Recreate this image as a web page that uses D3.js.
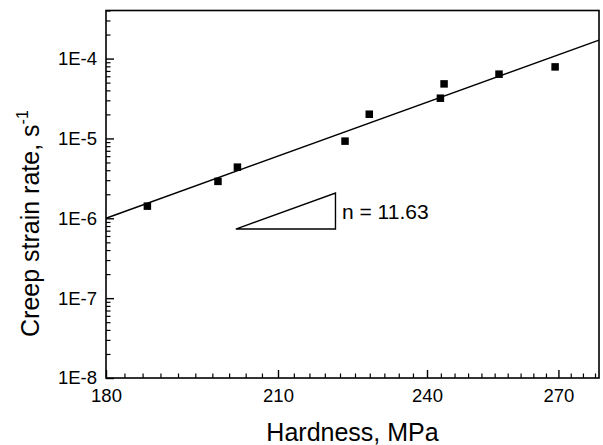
<!DOCTYPE html>
<html>
<head>
<meta charset="utf-8">
<script src="https://cdn.jsdelivr.net/npm/d3@7/dist/d3.min.js"></script>
<style>
  html, body { margin: 0; padding: 0; background: #fff; }
  svg { display: block; font-family: "Liberation Sans", Arial, Helvetica, sans-serif; }
</style>
</head>
<body>
<svg id="chart" width="603" height="445"></svg>
<script>
// Measured hardness (MPa) and creep strain rate (1/s)
const hardness = [186.8, 199.0, 202.5, 223.0, 227.9, 242.9, 243.7, 256.0, 269.2];
const creepRate = [1.42e-6, 2.90e-6, 4.37e-6, 9.25e-6, 2.01e-5, 3.19e-5, 4.82e-5, 6.38e-5, 7.87e-5];

// Power-law fit: rate = refRate * (H / refH)^n
const stressExponent = 11.63;
const fitRef = [180, 1.0e-6];

// Slope triangle (base from hardness a to b at a fixed rate)
const triangleBase = [202.2, 221.1];
const triangleRate = 7.33e-7;

// Axis ticks
const xMajorTicks = [180, 210, 240, 270];
const xMinorTicks = d3.range(183, 280, 3).filter(v => !xMajorTicks.includes(v));
const yMajorTicks = [1e-8, 1e-7, 1e-6, 1e-5, 1e-4];
const yMinorTicks = [];
[-8, -7, -6, -5, -4].forEach(e => {
  for (let k = 2; k <= 9; k++) {
    const v = k * Math.pow(10, e);
    if (v <= 4e-4) yMinorTicks.push(v);
  }
});

const svg = d3.select("#chart");
const plotLeft = 106, plotRight = 599, plotTop = 10.5, plotBottom = 378;

const x = d3.scaleLog().domain([180, 280]).range([plotLeft, plotRight]);
const y = d3.scaleLog().domain([1e-8, 4e-4]).range([plotBottom, plotTop]);

const fit = h => fitRef[1] * Math.pow(h / fitRef[0], stressExponent);

// Minor ticks
svg.append("g")
  .attr("transform", `translate(0,${plotBottom})`)
  .call(d3.axisBottom(x).tickValues(xMinorTicks).tickSize(-4.5).tickFormat(""))
  .call(g => g.select(".domain").remove())
  .call(g => g.selectAll("line").attr("stroke", "#000").attr("stroke-width", 1.2));

svg.append("g")
  .attr("transform", `translate(${plotLeft},0)`)
  .call(d3.axisLeft(y).tickValues(yMinorTicks).tickSize(-4.5).tickFormat(""))
  .call(g => g.select(".domain").remove())
  .call(g => g.selectAll("line").attr("stroke", "#000").attr("stroke-width", 1.2));

// Major ticks with labels
svg.append("g")
  .attr("transform", `translate(0,${plotBottom})`)
  .call(d3.axisBottom(x).tickValues(xMajorTicks).tickSize(-8).tickPadding(11).tickFormat(d3.format("d")))
  .call(g => g.select(".domain").remove())
  .call(g => g.selectAll("line").attr("stroke", "#000").attr("stroke-width", 1.4))
  .call(g => g.selectAll("text").attr("fill", "#000").attr("font-size", 18.5)
    .attr("font-family", "Liberation Sans, Arial, sans-serif"));

svg.append("g")
  .attr("transform", `translate(${plotLeft},0)`)
  .call(d3.axisLeft(y).tickValues(yMajorTicks).tickSize(-8).tickPadding(9)
    .tickFormat(d => "1E" + Math.round(Math.log10(d))))
  .call(g => g.select(".domain").remove())
  .call(g => g.selectAll("line").attr("stroke", "#000").attr("stroke-width", 1.4))
  .call(g => g.selectAll("text").attr("fill", "#000").attr("font-size", 18.5)
    .attr("font-family", "Liberation Sans, Arial, sans-serif"));

// Plot frame
svg.append("rect")
  .attr("x", plotLeft).attr("y", plotTop)
  .attr("width", plotRight - plotLeft).attr("height", plotBottom - plotTop)
  .attr("fill", "none").attr("stroke", "#000").attr("stroke-width", 1.6);

// Fit line across the full hardness domain
const hDomain = x.domain();
svg.append("line")
  .attr("x1", x(hDomain[0])).attr("y1", y(fit(hDomain[0])))
  .attr("x2", x(hDomain[1])).attr("y2", y(fit(hDomain[1])))
  .attr("stroke", "#000").attr("stroke-width", 1.5);

// Data points
const pts = hardness.map((h, i) => [h, creepRate[i]]);
const sq = 7.5;
svg.append("g").selectAll("rect")
  .data(pts).join("rect")
  .attr("x", d => x(d[0]) - sq / 2)
  .attr("y", d => y(d[1]) - sq / 2)
  .attr("width", sq).attr("height", sq)
  .attr("fill", "#000");

// Slope triangle
const triTop = triangleRate * Math.pow(triangleBase[1] / triangleBase[0], stressExponent);
svg.append("path")
  .attr("d", d3.line()([
    [x(triangleBase[0]), y(triangleRate)],
    [x(triangleBase[1]), y(triangleRate)],
    [x(triangleBase[1]), y(triTop)],
    [x(triangleBase[0]), y(triangleRate)]
  ]))
  .attr("fill", "none").attr("stroke", "#000").attr("stroke-width", 1.4)
  .attr("stroke-linejoin", "miter");

svg.append("text")
  .attr("x", x(triangleBase[1]) + 6.5)
  .attr("y", 218.5)
  .attr("font-size", 21)
  .attr("fill", "#000")
  .text("n = " + stressExponent.toFixed(2));

// Axis titles
svg.append("text")
  .attr("x", (plotLeft + plotRight) / 2)
  .attr("y", 441)
  .attr("text-anchor", "middle")
  .attr("font-size", 25)
  .attr("fill", "#000")
  .text("Hardness, MPa");

const yTitle = svg.append("text")
  .attr("transform", "translate(39,337) rotate(-90)")
  .attr("text-anchor", "start")
  .attr("font-size", 25)
  .attr("fill", "#000");
yTitle.append("tspan").text("Creep strain rate, s");
yTitle.append("tspan").attr("dy", -11).attr("font-size", 16).text("-1");
</script>
</body>
</html>
